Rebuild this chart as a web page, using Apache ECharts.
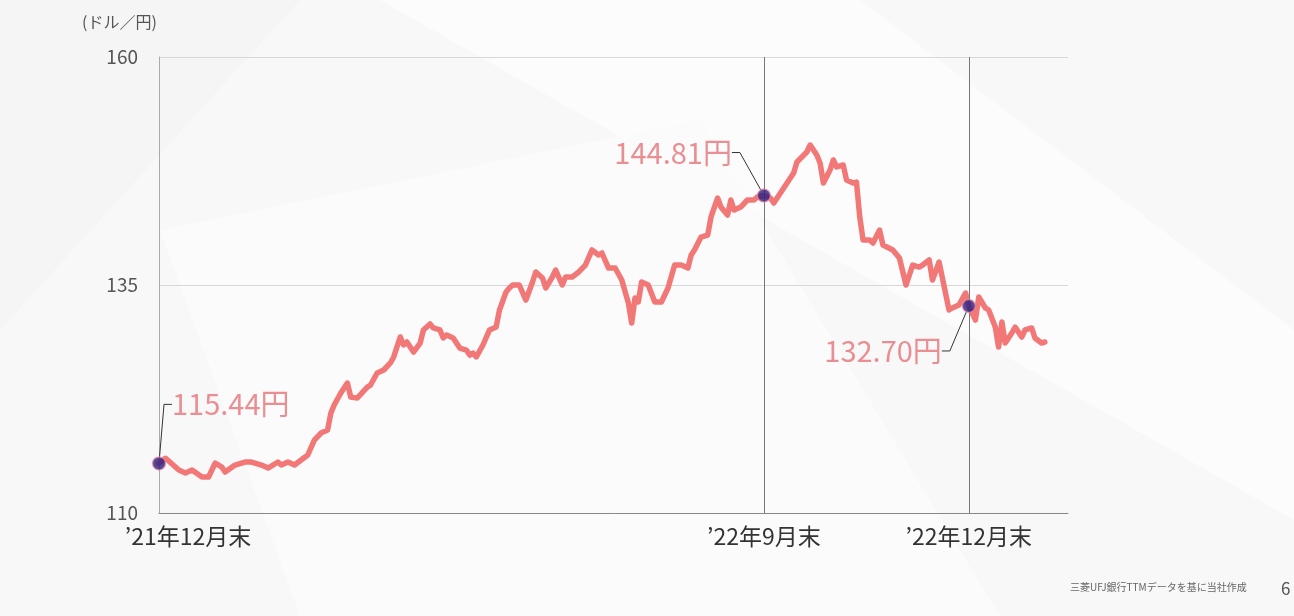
<!DOCTYPE html>
<html lang="ja">
<head>
<meta charset="utf-8">
<title>ドル円レート推移</title>
<script src="https://cdn.jsdelivr.net/npm/echarts@6/dist/echarts.min.js"></script>
<style>
  html, body { margin: 0; padding: 0; background: #f8f8f8; }
  #chart { width: 1294px; height: 616px; }
</style>
</head>
<body>
<div id="chart"></div>
<script>
// USD/JPY TTM, by trading day counted from the end of Dec 2021
const days = [0,2,6,8,10,13,15,17,19,20,23,26,28,31,33,36,37,39,41,43,45,47,49,51,52,53,55,57,58,60,
  63,64,66,68,70,71,73,74,75,77,79,80,82,83,85,86,87,89,91,93,94,95,96,98,100,102,103,105,106,107,
  109,111,113,114,116,117,119,120,122,123,125,127,129,131,133,134,136,138,140,142,143,144,145,146,148,150,
  152,154,156,158,160,161,162,164,166,167,169,170,172,173,174,176,178,180,181,183,185,186,189,192,
  193,196,197,199,200,201,203,204,205,207,208,210,211,212,213,215,216,218,219,222,224,226,228,230,
  231,233,234,236,237,239,240,242,244,245,247,248,250,251,253,254,255,256,258,259,261,262,264,265,267,268];
const rates = [115.44,116.0,114.71,114.39,114.71,113.95,113.95,115.48,115.04,114.49,115.26,115.59,115.59,115.26,114.93,115.59,115.26,115.59,115.26,115.81,
  116.36,118.0,118.77,119.1,120.96,121.84,123.16,124.25,122.72,122.61,
  123.81,124.03,125.35,125.68,126.45,127.11,129.3,128.42,128.75,127.65,128.64,130.07,130.72,130.29,130.07,129.19,129.52,129.19,128.09,127.87,
  127.32,127.54,127.11,128.42,130.07,130.39,132.26,134.23,134.67,135.0,
  135.0,133.35,135.33,136.43,135.77,134.67,135.88,136.64,135.0,135.88,135.88,136.43,137.19,138.84,138.29,138.51,136.86,136.86,135.55,133.03,
  130.83,133.57,133.14,135.33,135.0,133.14,133.14,134.67,137.19,137.19,136.86,138.29,138.84,140.26,140.48,142.46,144.54,143.55,142.67,144.32,
  143.22,143.55,144.32,144.32,144.65,144.81,144.54,143.99,145.64,147.28,
  148.49,149.58,150.35,149.25,148.38,146.18,147.61,148.71,147.94,148.16,146.51,146.18,146.29,142.46,139.93,139.93,139.6,141.03,139.39,138.84,
  137.96,135.0,137.19,136.97,137.19,137.74,135.55,137.52,135.77,132.26,132.48,132.81,134.12,132.7,131.16,133.68,132.48,132.26,130.39,128.2,
  130.94,128.64,129.74,130.39,129.3,130.07,130.29,129.19,128.64,128.75];

// Period-end points that carry a value label
const keyDays = [0, 183, 245];

// Bottom axis labels and where they sit
const tickDays = [0, 183, 245];
const tickLabels = ['’21年12月末', '’22年9月末', '’22年12月末'];

// Y axis range
const yMin = 110, yMax = 160, yStep = 25;
const xMax = 275;

const keyPoints = keyDays.map(d => [d, rates[days.indexOf(d)]]);
const lineData = days.map((d, i) => [d, rates[i]]);

// Label placement relative to each marker
const labelPlacement = [
  { dx: 13, dy: -59, align: 'left' },
  { dx: -32, dy: -43, align: 'right' },
  { dx: -27, dy: 45, align: 'right' }
];

const FONT = "'Noto Sans CJK JP', 'Noto Sans', sans-serif";
const chart = echarts.init(document.getElementById('chart'), null, { renderer: 'canvas' });

chart.setOption({
  animation: false,
  backgroundColor: '#f8f8f8',
  textStyle: { fontFamily: FONT },
  graphic: [
    { type: 'polygon', z: -10, silent: true,
      shape: { points: [[380, 0], [860, 0], [1294, 330], [1294, 520]] },
      style: { fill: '#fcfcfc' } },
    { type: 'polygon', z: -10, silent: true,
      shape: { points: [[160, 230], [700, 120], [1000, 616], [300, 616]] },
      style: { fill: '#fbfbfb' } },
    { type: 'polygon', z: -10, silent: true,
      shape: { points: [[0, 0], [300, 0], [0, 330]] },
      style: { fill: '#f5f5f5' } },
    { type: 'text', left: 82, top: 14,
      style: { text: '(ドル／円)', fontSize: 16, fill: '#555', fontFamily: FONT } },
    { type: 'text', left: 1070, top: 582,
      style: { text: '三菱UFJ銀行TTMデータを基に当社作成', fontSize: 10, fill: '#666', fontFamily: FONT } },
    { type: 'text', left: 1281, top: 580,
      style: { text: '6', fontSize: 17, fill: '#555', fontFamily: FONT } }
  ],
  grid: { left: 159, right: 226, top: 57, bottom: 103, containLabel: false },
  xAxis: {
    type: 'value',
    min: 0,
    max: xMax,
    axisLine: { show: true, onZero: false, lineStyle: { color: '#888', width: 1 } },
    axisTick: { show: false },
    splitLine: { show: false },
    axisLabel: {
      customValues: tickDays,
      margin: 12,
      fontSize: 23,
      color: '#333',
      fontFamily: FONT,
      formatter: v => {
        const i = tickDays.indexOf(v);
        if (i < 0) return '';
        return i === 0 ? '{first|' + tickLabels[i] + '}' : tickLabels[i];
      },
      rich: {
        first: { fontSize: 23, color: '#333', fontFamily: FONT, padding: [0, 0, 0, 58] }
      }
    }
  },
  yAxis: {
    type: 'value',
    min: yMin,
    max: yMax,
    interval: yStep,
    axisLine: { show: true, lineStyle: { color: '#aaa', width: 1 } },
    axisTick: { show: false },
    splitLine: { show: true, lineStyle: { color: '#d8d8d8', width: 1 } },
    axisLabel: { fontSize: 19, color: '#555', margin: 21, fontFamily: FONT }
  },
  series: [
    {
      type: 'line',
      data: lineData,
      showSymbol: false,
      smooth: false,
      lineStyle: { color: '#F27777', width: 5.5, cap: 'round', join: 'round' },
      z: 2,
      markLine: {
        silent: true,
        symbol: ['none', 'none'],
        label: { show: false },
        lineStyle: { color: '#777', width: 1, type: 'solid' },
        data: [{ xAxis: tickDays[1] }, { xAxis: tickDays[2] }]
      }
    },
    {
      type: 'scatter',
      data: keyPoints,
      symbol: 'circle',
      symbolSize: 13,
      z: 5,
      itemStyle: { color: '#2a1d7e', borderColor: 'rgba(242,140,160,0.8)', borderWidth: 1.5 },
      label: {
        show: true,
        position: 'top',
        formatter: p => p.value[1].toFixed(2) + '円',
        fontSize: 29,
        color: '#E57479',
        fontFamily: FONT
      },
      labelLine: { show: true, length2: 8, lineStyle: { color: '#333', width: 1 } },
      labelLayout: params => {
        const o = labelPlacement[params.dataIndex];
        const cx = params.rect.x + params.rect.width / 2;
        const cy = params.rect.y + params.rect.height / 2;
        return { x: cx + o.dx, y: cy + o.dy, align: o.align, verticalAlign: 'middle' };
      }
    }
  ]
});
</script>
</body>
</html>
